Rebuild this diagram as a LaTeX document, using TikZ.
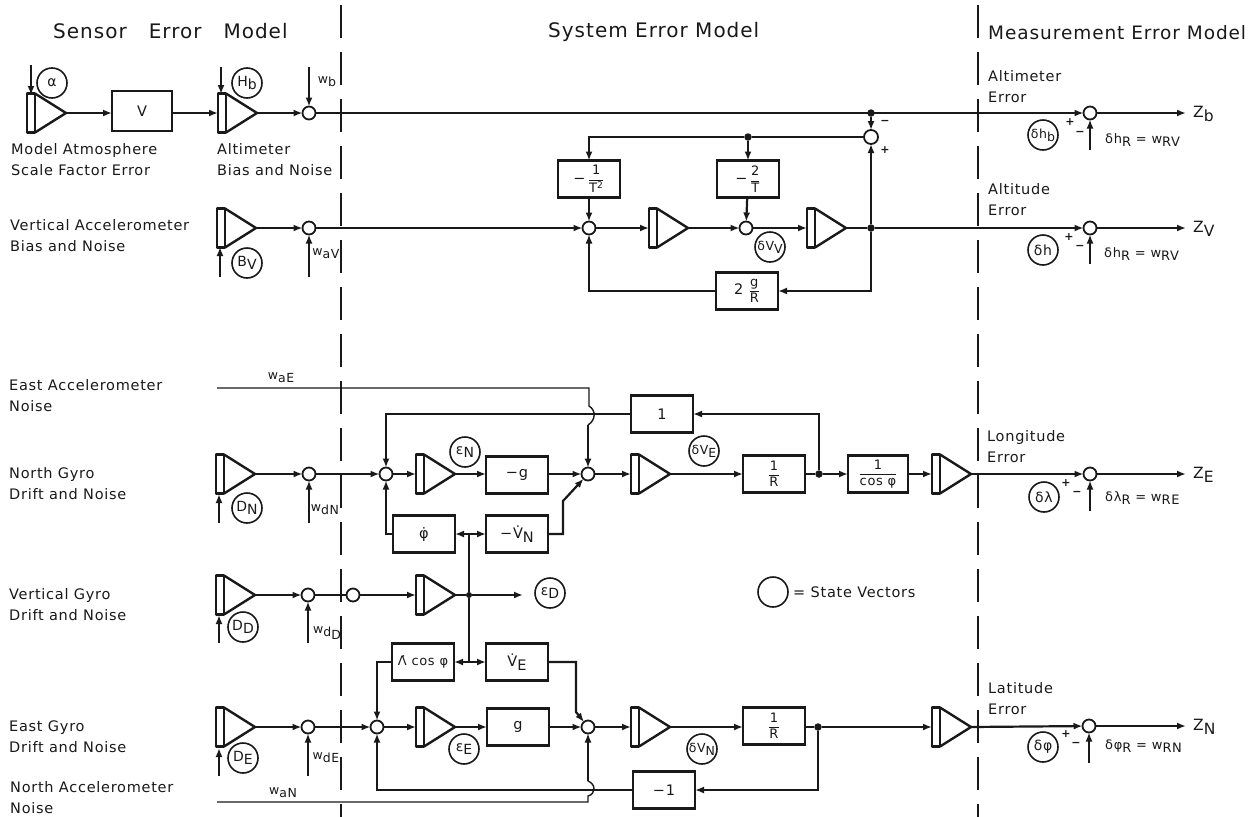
\documentclass[tikz,border=0pt]{standalone}
\usepackage{fontspec}
\setmainfont[LetterSpace=5]{DejaVu Sans}
\usetikzlibrary{arrows.meta}
\newcommand{\sub}[1]{\raisebox{-0.45ex}{#1}}
\newcommand{\fr}[2]{{\fontsize{13}{13}\selectfont$\displaystyle\frac{\mbox{#1}}{\mbox{#2}}$}}
\newcommand{\gain}[3]{
    \node [gainbox] (#1) at (#2, #3) {};
    \draw [gainline] (#1.north west) rectangle ([xshift=8pt]#1.south west);
    \draw [gainline] ([xshift=8pt]#1.north west) -- (#1.east) -- ([xshift=8pt]#1.south west);
}
\begin{document}
\begin{tikzpicture}
[
    x=1pt, y=-1pt,
    every node/.style={font=\fontsize{14.5}{15}\selectfont, text=black!90},
    flow/.style={line width=2.2pt, draw=black!90, -{Latex[length=9pt,width=7pt]}},
    wire/.style={line width=2.2pt, draw=black!90},
    thinwire/.style={line width=1.4pt, draw=black!90},
    block/.style={draw=black!90, line width=2.4pt, rectangle, minimum width=62pt, minimum height=37pt, inner sep=0pt, outer sep=0pt},
    sum/.style={draw=black!90, line width=1.8pt, circle, fill=white, minimum size=13pt, inner sep=0pt, outer sep=0pt},
    dot/.style={fill=black!90, circle, minimum size=7.5pt, inner sep=0pt, outer sep=0pt},
    state/.style={draw=black!90, line width=1.6pt, circle, minimum size=30pt, inner sep=0pt, font=\fontsize{14}{14}\selectfont},
    narrowstate/.style={state, font=\fontsize{12.5}{13}\selectfont},
    gainbox/.style={rectangle, minimum width=39pt, minimum height=39pt, inner sep=0pt, outer sep=0pt, anchor=west},
    gainline/.style={line width=2.4pt, draw=black!90, line join=round},
    divider/.style={line width=1.4pt, draw=black!90, dash pattern=on 33pt off 14pt},
    heading/.style={font=\fontsize{20}{20}\selectfont, anchor=west, inner sep=0pt},
    caption/.style={align=left, anchor=west, inner sep=0pt},
    sign/.style={font=\fontsize{11}{11}\selectfont\bfseries, inner sep=0pt},
    wlabel/.style={font=\fontsize{12.5}{13}\selectfont, inner sep=0pt},
    eqn/.style={font=\fontsize{13}{13}\selectfont, anchor=west, inner sep=0pt},
    output/.style={font=\fontsize{15.5}{15}\selectfont, anchor=west, inner sep=0pt}
]
    \useasboundingbox (0, 0) rectangle (1259, 817);
    \coordinate (topa) at (341, 5);
    \coordinate (bota) at (341, 817);
    \coordinate (topb) at (978, 5);
    \coordinate (botb) at (978, 817);
    \draw [divider] (topa) -- (bota);
    \draw [divider] (topb) -- (botb);

    \node [heading] (tsensor) at (53, 31) {Sensor\hspace{1.1em}Error\hspace{1.1em}Model};
    \node [heading] (tsystem) at (548, 32) {System Error Model};
    \node [heading, font=\fontsize{18.5}{20}\selectfont] (tmeas) at (988, 33) {Measurement Error Model};

    \node [caption] (latm) at (11, 160) {Model Atmosphere\\[6pt]Scale Factor Error};
    \node [caption] (lalt) at (217, 160) {Altimeter\\[6pt]Bias and Noise};
    \node [caption] (lver) at (10, 236) {Vertical Accelerometer\\[6pt]Bias and Noise};
    \node [caption] (leas) at (9, 396) {East Accelerometer\\[6pt]Noise};
    \node [caption] (lnor) at (9, 484) {North Gyro\\[6pt]Drift and Noise};
    \node [caption] (lvgy) at (9, 605) {Vertical Gyro\\[6pt]Drift and Noise};
    \node [caption] (legy) at (9, 737) {East Gyro\\[6pt]Drift and Noise};
    \node [caption] (lnac) at (10, 798) {North Accelerometer\\[6pt]Noise};

    \gain{aa}{27}{113}
    \gain{ab}{218}{113}
    \gain{av}{217}{228}
    \gain{av1}{649}{228}
    \gain{av2}{807}{228}
    \gain{adn}{216}{474}
    \gain{an1}{416}{474}
    \gain{an2}{631}{474}
    \gain{an3}{932}{474}
    \gain{add}{216}{595}
    \gain{ad1}{416}{595}
    \gain{ade}{216}{727}
    \gain{ae1}{416}{727}
    \gain{ae2}{631}{727}
    \gain{ae3}{932}{727}

    \node [block, minimum width=60pt, minimum height=40pt] (bv) at (142, 111) {V};
    \node [block] (bt2) at (589, 179) {\textminus\,\fr{1}{T\textsuperscript{2}}};
    \node [block] (bt1) at (748, 179) {\textminus\,\fr{2}{T}};
    \node [block] (bgr) at (747, 291) {2 \fr{g}{R}};
    \node [block] (bon) at (662, 414) {1};
    \node [block] (bmg) at (517, 475) {\textminus g};
    \node [block] (brn) at (774, 474) {\fr{1}{R}};
    \node [block, minimum width=60pt] (bco) at (878, 474) {\fr{1}{cos φ}};
    \node [block] (bph) at (424, 534) {φ̇};
    \node [block] (bvn) at (517, 534) {\textminus V̇\sub{N}};
    \node [block, font=\fontsize{13}{13}\selectfont] (blc) at (423, 662) {Λ̇ cos φ};
    \node [block] (bve) at (517, 662) {V̇\sub{E}};
    \node [block] (bge) at (518, 727) {g};
    \node [block] (bre) at (774, 726) {\fr{1}{R}};
    \node [block] (bmo) at (664, 790) {\textminus 1};

    \node [sum] (s1) at (309, 113) {};
    \node [sum] (s2) at (309, 228) {};
    \node [sum] (s3) at (589, 228) {};
    \node [sum] (s4) at (746, 228) {};
    \node [sum, minimum size=14pt] (s5) at (871, 137) {};
    \node [sum] (s6) at (386, 474) {};
    \node [sum] (s7) at (309, 474) {};
    \node [sum] (s8) at (588, 474) {};
    \node [sum] (s9) at (308, 595) {};
    \node [sum] (s10) at (353, 595) {};
    \node [sum] (s11) at (308, 727) {};
    \node [sum] (s12) at (377, 727) {};
    \node [sum] (s13) at (588, 727) {};
    \node [sum] (m1) at (1090, 113) {};
    \node [sum] (m2) at (1090, 228) {};
    \node [sum] (m3) at (1090, 474) {};
    \node [sum] (m4) at (1089, 726) {};

    \node [dot] (d1) at (871, 113) {};
    \node [dot] (d2) at (748, 137) {};
    \node [dot] (d3) at (871, 228) {};
    \node [dot] (d4) at (819, 474) {};
    \node [dot, minimum size=6pt] (d5) at (469, 595) {};
    \node [dot] (d6) at (818, 727) {};

    \node [state] (ca) at (52, 83) {α};
    \node [state] (chb) at (247, 83) {H\sub{b}};
    \node [state] (cbv) at (247, 263) {B\sub{V}};
    \node [narrowstate] (cvv) at (770, 247) {δV\sub{V}};
    \node [state] (cen) at (465, 452) {ε\sub{N}};
    \node [narrowstate] (cve) at (704, 451) {δV\sub{E}};
    \node [state] (cdn) at (247, 508) {D\sub{N}};
    \node [state] (cdd) at (243, 627) {D\sub{D}};
    \node [state] (cde) at (243, 758) {D\sub{E}};
    \node [state] (ced) at (550, 593) {ε\sub{D}};
    \node [state] (cee) at (464, 749) {ε\sub{E}};
    \node [narrowstate] (cvn) at (702, 749) {δV\sub{N}};
    \node [narrowstate] (chh) at (1043, 135) {δh\sub{b}};
    \node [state] (cdh) at (1043, 250) {δh};
    \node [state] (cdl) at (1044, 497) {δλ};
    \node [state] (cdp) at (1043, 747) {δφ};
    \node [state] (ckey) at (773, 592) {};
    \node [caption] (tkey) at (793, 592) {= State Vectors};

    \coordinate (ia) at (31, 65);
    \coordinate (iat) at (31, 95);
    \coordinate (ib) at (221, 67);
    \coordinate (ibt) at (221, 94);
    \coordinate (ic) at (220, 277);
    \coordinate (ict) at (220, 247);
    \coordinate (wb) at (309, 67);
    \coordinate (wv) at (309, 277);
    \coordinate (idn) at (219, 523);
    \coordinate (idnt) at (219, 494);
    \coordinate (wdn) at (309, 523);
    \coordinate (idd) at (219, 643);
    \coordinate (iddt) at (219, 615);
    \coordinate (wdd) at (308, 643);
    \coordinate (ide) at (219, 776);
    \coordinate (idet) at (219, 748);
    \coordinate (wde) at (308, 776);
    \coordinate (wae) at (217, 388);
    \coordinate (wan) at (217, 802);
    \coordinate (z1) at (1186, 113);
    \coordinate (z2) at (1186, 228);
    \coordinate (z3) at (1186, 474);
    \coordinate (z4) at (1186, 726);
    \coordinate (r1) at (1090, 150);
    \coordinate (r2) at (1090, 264);
    \coordinate (r3) at (1090, 511);
    \coordinate (r4) at (1089, 763);
    \coordinate (ve) at (523, 595);
    \coordinate (ju) at (469, 534);
    \coordinate (jl) at (469, 662);
    \coordinate (cr) at (589, 137);

    \draw [flow] (ia) -- (iat);
    \draw [flow] (ib) -- (ibt);
    \draw [flow] (ic) -- (ict);
    \draw [flow] (wb) -- (s1);
    \draw [flow] (wv) -- (s2);
    \draw [flow] (aa.east) -- (bv.west |- aa.east);
    \draw [flow] (bv.east |- ab.west) -- (ab.west);
    \draw [flow] (ab.east) -- (s1);
    \draw [flow] (av.east) -- (s2);
    \draw [flow] (s1) -- (m1);
    \draw [flow] (m1) -- (z1);
    \draw [flow] (s2) -- (s3);
    \draw [flow] (s3) -- (av1.west);
    \draw [flow] (av1.east) -- (s4);
    \draw [flow] (s4) -- (av2.west);
    \draw [wire] (av2.east) -- (d3);
    \draw [flow] (d3) -- (m2);
    \draw [flow] (m2) -- (z2);
    \draw [flow] (d1) -- (s5);
    \draw [flow] (d3) -- (s5);
    \draw [wire] (s5) -- (d2);
    \draw [flow] (d2) -- (cr) -- (bt2);
    \draw [flow] (d2) -- (bt1);
    \draw [flow] (bt2) -- (s3);
    \draw [flow] (bt1) -- (s4);
    \draw [flow] (d3) |- (bgr);
    \draw [thinwire, -{Latex[length=9pt,width=7pt]}] (bgr) -| (s3);

    \draw [thinwire] (wae) -- (589, 388) -- (589, 406) .. controls (596, 410) and (596, 420) .. (588, 425);
    \draw [flow, line width=1.4pt] (588, 425) -- (s8);
    \draw [flow] (d4) |- (bon);
    \draw [flow] (bon) -| (s6);
    \draw [flow] (adn.east) -- (s7);
    \draw [flow] (idn) -- (idnt);
    \draw [flow] (wdn) -- (s7);
    \draw [flow] (s7) -- (s6);
    \draw [flow] (s6) -- (an1.west);
    \draw [flow] (an1.east) -- (bmg.west |- an1.east);
    \draw [flow] (bmg.east |- s8) -- (s8);
    \draw [flow] (s8) -- (an2.west);
    \draw [flow] (an2.east) -- (brn);
    \draw [wire] (brn) -- (d4);
    \draw [flow] (d4) -- (bco);
    \draw [flow] (bco) -- (an3.west);
    \draw [flow] (an3.east) -- (m3);
    \draw [flow] (m3) -- (z3);
    \draw [flow] (bph) -| (s6);
    \draw [flow] (bvn) -- (563, 534) -- (563, 501) -- (s8);

    \draw [flow] (add.east) -- (s9);
    \draw [flow] (idd) -- (iddt);
    \draw [flow] (wdd) -- (s9);
    \draw [wire] (s9) -- (s10);
    \draw [flow] (s10) -- (ad1.west);
    \draw [wire] (ad1.east) -- (d5);
    \draw [flow] (d5) -- (ve);
    \draw [wire] (ju) -- (d5);
    \draw [wire] (d5) -- (jl);
    \draw [flow] (ju) -- (bph);
    \draw [flow] (ju) -- (bvn);
    \draw [flow] (jl) -- (blc);
    \draw [flow] (jl) -- (bve);

    \draw [flow] (blc) -| (s12);
    \draw [flow] (bve) -- (576, 662) -- (576, 712) -- (s13);
    \draw [flow] (ade.east) -- (s11);
    \draw [flow] (ide) -- (idet);
    \draw [flow] (wde) -- (s11);
    \draw [flow] (s11) -- (s12);
    \draw [flow] (s12) -- (ae1.west);
    \draw [flow] (ae1.east) -- (bge);
    \draw [flow] (bge) -- (s13);
    \draw [flow] (s13) -- (ae2.west);
    \draw [flow] (ae2.east) -- (bre.west |- ae2.east);
    \draw [wire] (bre.east |- d6) -- (d6);
    \draw [flow] (d6) -- (ae3.west);
    \draw [flow] (ae3.east) -- (m4);
    \draw [flow] (m4) -- (z4);
    \draw [flow] (d6) |- (bmo);
    \draw [flow] (bmo) -| (s12);
    \draw [thinwire] (wan) -- (588, 802) -- (588, 796) .. controls (596, 794) and (596, 784) .. (588, 781);
    \draw [flow, line width=1.4pt] (588, 781) -- (s13);

    \draw [flow] (r1) -- (m1);
    \draw [flow] (r2) -- (m2);
    \draw [flow] (r3) -- (m3);
    \draw [flow] (r4) -- (m4);

    \node [wlabel] (nwb) at (327, 82) {w\sub{b}};
    \node [wlabel] (nwv) at (326, 254) {w\sub{aV}};
    \node [wlabel] (nwe) at (281, 378) {w\sub{aE}};
    \node [wlabel] (nwn) at (283, 793) {w\sub{aN}};
    \node [wlabel] (nwd) at (325, 510) {w\sub{dN}};
    \node [wlabel] (nwf) at (327, 633) {w\sub{d\sub{D}}};
    \node [wlabel] (nwg) at (326, 758) {w\sub{dE}};

    \node [sign] (pm1) at (885, 122) {\textminus};
    \node [sign] (pm2) at (885, 150) {+};
    \node [sign] (pm3) at (1070, 122) {+};
    \node [sign] (pm4) at (1080, 133) {\textminus};
    \node [sign] (pm5) at (1069, 237) {+};
    \node [sign] (pm6) at (1080, 247) {\textminus};
    \node [sign] (pm7) at (1066, 483) {+};
    \node [sign] (pm8) at (1077, 493) {\textminus};
    \node [sign] (pm9) at (1066, 734) {+};
    \node [sign] (pm10) at (1076, 744) {\textminus};

    \node [caption] (lae) at (988, 87) {Altimeter\\[6pt]Error};
    \node [caption] (lde) at (988, 200) {Altitude\\[6pt]Error};
    \node [caption] (lle) at (987, 447) {Longitude\\[6pt]Error};
    \node [caption] (lte) at (988, 699) {Latitude\\[6pt]Error};

    \node [eqn] (eqa) at (1105, 140) {δh\sub{R} = w\sub{RV}};
    \node [eqn] (eqb) at (1104, 254) {δh\sub{R} = w\sub{RV}};
    \node [eqn] (eqc) at (1105, 498) {δλ\sub{R} = w\sub{RE}};
    \node [eqn] (eqd) at (1105, 746) {δφ\sub{R} = w\sub{RN}};

    \node [output] (za) at (1193, 114) {Z\sub{b}};
    \node [output] (zb) at (1193, 229) {Z\sub{V}};
    \node [output] (zc) at (1193, 475) {Z\sub{E}};
    \node [output] (zd) at (1193, 727) {Z\sub{N}};
\end{tikzpicture}
\end{document}
